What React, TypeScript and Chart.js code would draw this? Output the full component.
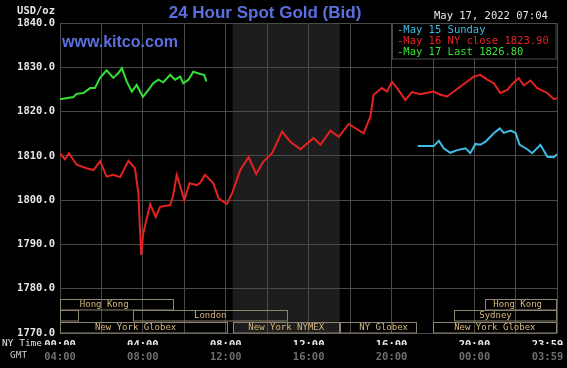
import React, { useEffect, useRef } from 'react';
import { Chart, registerables } from 'chart.js';

Chart.register(...registerables);

// ---- data (x = minutes after 00:00 NY time, y = USD/oz) ----
const MAY16_T = [0, 14, 26, 48, 77, 97, 116, 135, 154, 174, 198, 217, 227, 235, 241, 261, 277, 290, 319, 327, 338, 360, 375, 396, 406, 420, 444, 459, 483, 498, 522, 546, 568, 589, 614, 643, 667, 696, 734, 754, 783, 807, 836, 879, 899, 908, 918, 932, 947, 961, 976, 1000, 1019, 1043, 1082, 1101, 1121, 1150, 1179, 1198, 1217, 1237, 1256, 1275, 1295, 1309, 1328, 1343, 1362, 1382, 1411, 1430, 1439];
const MAY16_V = [1810.6, 1809.2, 1810.6, 1808.0, 1807.2, 1806.8, 1808.8, 1805.3, 1805.7, 1805.2, 1808.9, 1807.2, 1801.5, 1787.6, 1792.5, 1799.1, 1796.2, 1798.5, 1798.9, 1800.8, 1805.7, 1800.0, 1803.8, 1803.4, 1803.9, 1805.7, 1803.8, 1800.4, 1799.1, 1801.5, 1806.8, 1809.7, 1805.9, 1808.7, 1810.6, 1815.5, 1813.2, 1811.5, 1814.0, 1812.5, 1815.7, 1814.3, 1817.2, 1815.1, 1818.9, 1823.8, 1824.4, 1825.3, 1824.5, 1826.7, 1825.3, 1822.6, 1824.4, 1823.9, 1824.5, 1823.8, 1823.4, 1825.1, 1826.8, 1827.9, 1828.3, 1827.2, 1826.4, 1824.2, 1824.9, 1826.2, 1827.6, 1825.9, 1827.0, 1825.3, 1824.2, 1822.8, 1823.0];

const MAY17_T = [0, 39, 48, 68, 87, 101, 116, 135, 154, 169, 179, 193, 208, 222, 240, 256, 270, 285, 299, 319, 333, 348, 357, 372, 386, 406, 417, 424];
const MAY17_V = [1822.8, 1823.3, 1824.0, 1824.2, 1825.3, 1825.3, 1827.6, 1829.3, 1827.6, 1828.7, 1829.8, 1826.8, 1824.5, 1826.0, 1823.3, 1824.9, 1826.4, 1827.2, 1826.6, 1828.3, 1827.2, 1827.9, 1826.4, 1827.2, 1829.0, 1828.5, 1828.3, 1826.8];

const MAY15_T = [1036, 1082, 1097, 1111, 1130, 1150, 1174, 1188, 1203, 1217, 1232, 1256, 1273, 1285, 1304, 1319, 1331, 1353, 1367, 1391, 1411, 1430, 1439];
const MAY15_V = [1812.2, 1812.2, 1813.4, 1811.7, 1810.7, 1811.3, 1811.7, 1810.6, 1812.7, 1812.5, 1813.2, 1815.1, 1816.2, 1815.2, 1815.7, 1815.2, 1812.5, 1811.5, 1810.6, 1812.5, 1809.8, 1809.7, 1810.4];

const SERIES_LABELS = ['May 15 Sunday', 'May 16 NY close 1823.90', 'May 17 Last 1826.80'];

const X_TICKS = [0, 120, 240, 360, 480, 600, 720, 840, 960, 1080, 1200, 1320, 1439];
const NY_TICK_LABELS = ['00:00', '', '04:00', '', '08:00', '', '12:00', '', '16:00', '', '20:00', '', '23:59   '];
const GMT_TICK_LABELS = ['04:00', '', '08:00', '', '12:00', '', '16:00', '', '20:00', '', '00:00', '', '03:59   '];

const Y_MIN = 1770;
const Y_MAX = 1840;
const Y_STEP = 10;

// NYMEX pit hours (shaded)
const NYMEX_START = 500;
const NYMEX_END = 810;

// trading sessions: row, name, start, end, label centre (minutes)
const SESSION_ROW = [0, 0, 1, 1, 1, 2, 2, 2, 2];
const SESSION_NAME = ['Hong Kong', 'Hong Kong', '', 'London', 'Sydney', 'New York Globex', 'New York NYMEX', 'NY Globex', 'New York Globex'];
const SESSION_START = [0, 1230, 0, 210, 1140, 0, 500, 810, 1080];
const SESSION_END = [330, 1439, 55, 660, 1439, 485, 810, 1035, 1439];
const SESSION_LABEL_AT = [128, 1325, 27, 435, 1261, 219, 655, 937, 1259];

const TITLE = '24 Hour Spot Gold (Bid)';
const SITE = 'www.kitco.com';
const STAMP = 'May 17, 2022 07:04';
const UNIT = 'USD/oz';

const MONO = '"DejaVu Sans Mono", "Liberation Mono", monospace';
const SANS = '"Liberation Sans", Arial, sans-serif';
const GRID = '#4a4a4a';

const pts = (t: number[], v: number[]) => t.map((x, i) => ({ x, y: v[i] }));

const decor = {
  id: 'decor',
  beforeDraw(chart: any) {
    const { ctx, chartArea: a, scales } = chart;
    ctx.save();
    ctx.fillStyle = '#000';
    ctx.fillRect(0, 0, chart.width, chart.height);
    const s0 = scales.x.getPixelForValue(NYMEX_START);
    const s1 = scales.x.getPixelForValue(NYMEX_END);
    ctx.fillStyle = '#1d1d1d';
    ctx.fillRect(s0, a.top, s1 - s0, a.bottom - a.top);
    ctx.restore();
  },
  afterDatasetsDraw(chart: any) {
    const { ctx, chartArea: a, scales } = chart;
    const xs = scales.x;
    ctx.save();
    // sessions
    const rowH = 11.5;
    ctx.font = `9px ${MONO}`;
    ctx.textAlign = 'center';
    ctx.textBaseline = 'middle';
    ctx.lineWidth = 1;
    for (let i = 0; i < SESSION_NAME.length; i++) {
      const top = a.bottom - (3 - SESSION_ROW[i]) * rowH;
      const x0 = Math.round(xs.getPixelForValue(SESSION_START[i])) + 0.5;
      const x1 = Math.round(xs.getPixelForValue(SESSION_END[i])) - 0.5;
      ctx.strokeStyle = '#8c8470';
      ctx.strokeRect(x0, Math.round(top) + 0.5, x1 - x0, rowH - 1);
      if (SESSION_NAME[i]) {
        ctx.fillStyle = '#d8b87e';
        ctx.fillText(SESSION_NAME[i], xs.getPixelForValue(SESSION_LABEL_AT[i]), top + rowH / 2);
      }
    }
    // legend box
    const lx = Math.round(xs.getPixelForValue(960)) + 0.5;
    const lt = a.top + 0.5;
    const lb = a.top + 36;
    ctx.fillStyle = '#000';
    ctx.fillRect(lx, lt, a.right - lx, lb - lt);
    ctx.strokeStyle = GRID;
    ctx.strokeRect(lx, lt, a.right - lx - 1, lb - lt);
    ctx.font = `10.5px ${MONO}`;
    ctx.textAlign = 'left';
    chart.data.datasets.forEach((ds: any, i: number) => {
      ctx.fillStyle = ds.borderColor;
      ctx.fillText('-' + ds.label, lx + 4.5, a.top + 7.5 + i * 11);
    });
    // texts
    ctx.fillStyle = '#5b6fe0';
    ctx.font = `bold 17px ${SANS}`;
    ctx.textAlign = 'center';
    ctx.fillText(TITLE, 265, 13);
    ctx.font = `bold 16px ${SANS}`;
    ctx.textAlign = 'left';
    ctx.fillText(SITE, 62, 43);
    ctx.fillStyle = '#e6e6e6';
    ctx.font = `10.5px ${MONO}`;
    ctx.fillText(STAMP, 434, 16);
    ctx.textAlign = 'right';
    ctx.font = `bold 10.5px ${MONO}`;
    ctx.fillText(UNIT, 55, 11);
    ctx.textAlign = 'left';
    ctx.font = `9.5px ${MONO}`;
    ctx.fillStyle = '#e0e0e0';
    ctx.fillText('NY Time', 2, 344);
    ctx.fillStyle = '#c8c8c8';
    ctx.fillText('GMT', 10, 356);
    ctx.restore();
  },
};

const fitX = (h: number) => (s: any) => {
  s.height = h;
  s.paddingLeft = 0;
  s.paddingRight = 0;
  s.paddingTop = 0;
  s.paddingBottom = 0;
};

export default function App() {
  const ref = useRef<HTMLCanvasElement>(null);
  useEffect(() => {
    const chart = new Chart(ref.current as HTMLCanvasElement, {
      type: 'line',
      data: {
        datasets: [
          { label: SERIES_LABELS[0], data: pts(MAY15_T, MAY15_V), borderColor: '#3fbde6', borderWidth: 2, pointRadius: 0, xAxisID: 'x', yAxisID: 'y' },
          { label: SERIES_LABELS[1], data: pts(MAY16_T, MAY16_V), borderColor: '#e52222', borderWidth: 2, pointRadius: 0, xAxisID: 'x', yAxisID: 'y' },
          { label: SERIES_LABELS[2], data: pts(MAY17_T, MAY17_V), borderColor: '#35e035', borderWidth: 2, pointRadius: 0, xAxisID: 'x', yAxisID: 'y' },
        ],
      } as any,
      options: {
        animation: false,
        responsive: false,
        devicePixelRatio: 1,
        layout: { padding: { top: 23, right: 10, left: 0, bottom: 0 }, autoPadding: false },
        plugins: { legend: { display: false }, tooltip: { enabled: false }, title: { display: false } },
        scales: {
          x: {
            type: 'linear',
            position: 'bottom',
            weight: 0,
            min: 0,
            max: 1439,
            afterBuildTicks: (s: any) => { s.ticks = X_TICKS.map((v) => ({ value: v })); },
            afterFit: fitX(12),
            grid: { color: GRID, drawTicks: false, lineWidth: 1 },
            border: { display: false },
            ticks: {
              autoSkip: false,
              maxRotation: 0,
              padding: 6,
              color: '#e8e8e8',
              font: { family: MONO, size: 10.5, weight: 'bold' },
              callback: (_v: any, i: number) => NY_TICK_LABELS[i],
            },
          },
          x2: {
            type: 'linear',
            position: 'bottom',
            weight: 1,
            min: 0,
            max: 1439,
            afterBuildTicks: (s: any) => { s.ticks = X_TICKS.map((v) => ({ value: v })); },
            afterFit: fitX(23),
            grid: { display: false, drawTicks: false },
            border: { display: false },
            ticks: {
              autoSkip: false,
              maxRotation: 0,
              padding: 6,
              color: '#6e6e6e',
              font: { family: MONO, size: 10.5, weight: 'bold' },
              callback: (_v: any, i: number) => GMT_TICK_LABELS[i],
            },
          },
          y: {
            type: 'linear',
            position: 'left',
            min: Y_MIN,
            max: Y_MAX,
            afterFit: (s: any) => { s.width = 60; s.paddingTop = 0; s.paddingBottom = 0; },
            grid: { color: GRID, drawTicks: false, lineWidth: 1 },
            border: { display: false },
            ticks: {
              stepSize: Y_STEP,
              padding: 5,
              color: '#e6e6e6',
              font: { family: MONO, size: 10.5, weight: 'bold' },
              callback: (v: any) => Number(v).toFixed(1),
            },
          },
        },
      } as any,
      plugins: [decor],
    });
    return () => chart.destroy();
  }, []);
  return (
    <div style={{ position: 'fixed', left: 0, top: 0, width: 567, height: 368, background: '#000' }}>
      <canvas ref={ref} width={567} height={368} style={{ display: 'block', width: 567, height: 368 }} />
    </div>
  );
}
